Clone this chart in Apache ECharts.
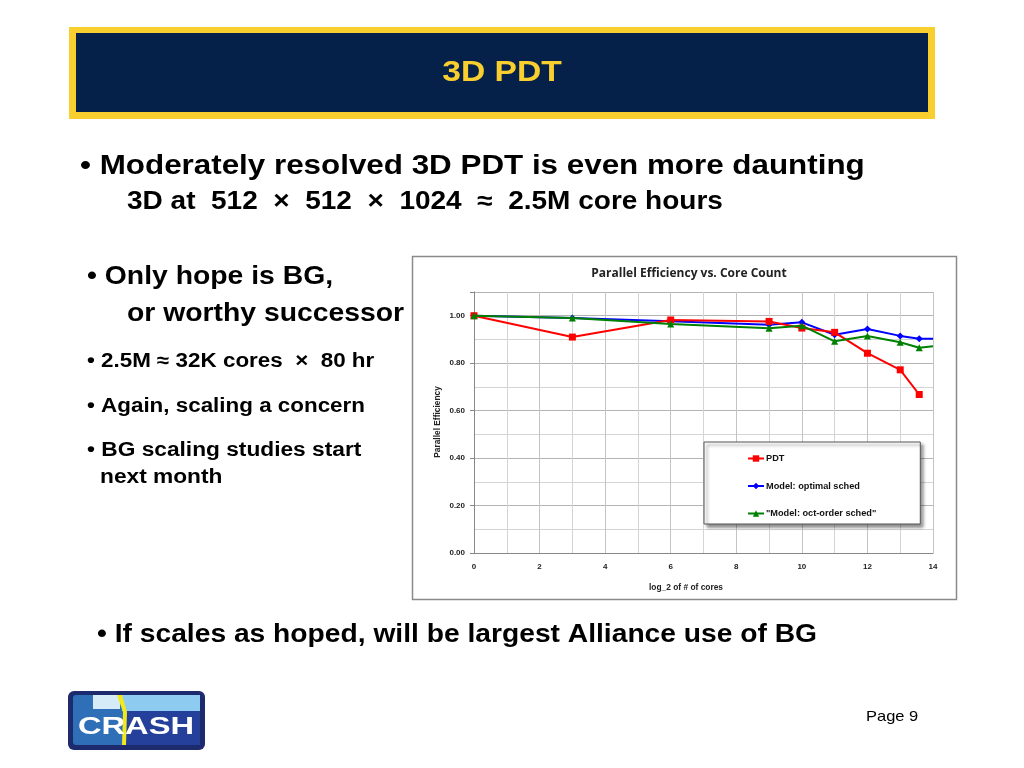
<!DOCTYPE html>
<html>
<head>
<meta charset="utf-8">
<script src="https://cdn.jsdelivr.net/npm/echarts@6/dist/echarts.min.js"></script>
<style>
html,body{margin:0;padding:0;background:#fff;}
#c{width:1024px;height:768px;}
</style>
</head>
<body>
<div id="c"></div>
<script>
var coresLog2 = [0, 3, 6, 9, 10, 11, 12, 13, 13.58];
var modelLog2 = [0, 3, 6, 9, 10, 11, 12, 13, 13.58, 14];
var pdtValues = [1.00, 0.91, 0.982, 0.976, 0.948, 0.93, 0.842, 0.772, 0.668];
var optimalValues = [1.00, 0.99, 0.977, 0.962, 0.972, 0.92, 0.944, 0.915, 0.903, 0.903];
var octOrderValues = [1.00, 0.99, 0.965, 0.947, 0.958, 0.892, 0.915, 0.888, 0.865, 0.871];
var seriesNames = ['PDT', 'Model: optimal sched', '"Model: oct-order sched"'];
var yTickLabels = ['0.00', '0.20', '0.40', '0.60', '0.80', '1.00'];

function pairs(xs, ys, lastNoSymbol) {
  return ys.map(function (v, i) {
    var item = { value: [xs[i], v] };
    if (lastNoSymbol && i === ys.length - 1) item.symbol = 'none';
    return item;
  });
}

var F = '"Liberation Sans", Arial, sans-serif';
function T(x, y, text, size, sx, extra) {
  var o = {
    type: 'text', x: x, y: y, scaleX: sx || 1.12, z: 20,
    style: { text: text, font: 'bold ' + size + 'px ' + F, fill: '#000', textVerticalAlign: 'middle' }
  };
  if (extra) { for (var k in extra) o.style[k] = extra[k]; }
  return o;
}

var chart = echarts.init(document.getElementById('c'), null, { renderer: 'canvas' });

var option = {
  backgroundColor: '#ffffff',
  animation: false,
  title: {
    text: 'Parallel Efficiency vs. Core Count',
    left: 684, top: 263, textAlign: 'center',
    textStyle: { fontFamily: '"Open Sans", sans-serif', fontWeight: 'bold', fontSize: 12, color: '#222' }
  },
  grid: { left: 474, right: 91, top: 292, bottom: 215, containLabel: false },
  xAxis: {
    type: 'value', min: 0, max: 14, interval: 2,
    axisLine: { show: true, lineStyle: { color: '#888', width: 1 } },
    axisTick: { show: false },
    axisLabel: { fontFamily: F, fontWeight: 'bold', fontSize: 8, color: '#222', margin: 10 },
    splitLine: { show: true, lineStyle: { color: '#c4c4c4', width: 1 } },
    minorTick: { show: false, splitNumber: 2 },
    minorSplitLine: { show: true, lineStyle: { color: '#d4d4d4', width: 1 } }
  },
  yAxis: {
    type: 'value', min: 0, max: 1.1, interval: 0.2,
    axisLine: { show: true, lineStyle: { color: '#888', width: 1 } },
    axisTick: { show: true, length: 4, lineStyle: { color: '#888' } },
    axisLabel: { fontFamily: F, fontWeight: 'bold', fontSize: 8, color: '#222', margin: 9,
      formatter: function (v) { var s = v.toFixed(2); return yTickLabels.indexOf(s) >= 0 ? s : ''; } },
    splitLine: { show: true, lineStyle: { color: '#b4b4b4', width: 1 } },
    minorTick: { show: false, splitNumber: 2 },
    minorSplitLine: { show: true, lineStyle: { color: '#d4d4d4', width: 1 } }
  },
  legend: {
    orient: 'vertical', left: 704, top: 442,
    data: seriesNames,
    backgroundColor: '#ffffff', borderColor: '#555', borderWidth: 1,
    padding: [12, 44, 6, 43],
    itemGap: 18.5, itemWidth: 16, itemHeight: 8,
    shadowColor: 'rgba(0,0,0,0.45)', shadowBlur: 3, shadowOffsetX: 3, shadowOffsetY: 3,
    textStyle: { fontFamily: F, fontWeight: 'bold', fontSize: 9.2, color: '#111', padding: [0, 0, 0, -3] }
  },
  series: [
    {
      name: seriesNames[0], type: 'line', data: pairs(coresLog2, pdtValues, false),
      symbol: 'rect', symbolSize: 7, color: '#ff0000',
      lineStyle: { color: '#ff0000', width: 2 }, itemStyle: { color: '#ff0000' }, z: 3
    },
    {
      name: seriesNames[1], type: 'line', data: pairs(modelLog2, optimalValues, true),
      symbol: 'diamond', symbolSize: 7, color: '#0000ff',
      lineStyle: { color: '#0000ff', width: 2 }, itemStyle: { color: '#0000ff' }, z: 2
    },
    {
      name: seriesNames[2], type: 'line', data: pairs(modelLog2, octOrderValues, true),
      symbol: 'triangle', symbolSize: 7, color: '#008000',
      lineStyle: { color: '#008000', width: 2 }, itemStyle: { color: '#008000' }, z: 4
    }
  ],
  graphic: [
    // chart frame
    { type: 'rect', z: -10, shape: { x: 412.5, y: 256.5, width: 544, height: 343 },
      style: { fill: '#fff', stroke: '#8a8a8a', lineWidth: 1.5 } },
    // axis names
    { type: 'text', x: 686, y: 588, z: 10,
      style: { text: 'log_2 of # of cores', font: 'bold 8.4px ' + F, fill: '#222', textAlign: 'center', textVerticalAlign: 'middle' } },
    { type: 'text', x: 438, y: 422, rotation: Math.PI / 2, z: 10,
      style: { text: 'Parallel Efficiency', font: 'bold 8.4px ' + F, fill: '#222', textAlign: 'center', textVerticalAlign: 'middle' } },
    // header
    { type: 'rect', shape: { x: 69, y: 27, width: 866, height: 92 }, style: { fill: '#f9cf2f' } },
    { type: 'rect', shape: { x: 76, y: 33, width: 852, height: 79 }, style: { fill: '#05214a' } },
    T(502, 73, '3D PDT', 30, 1.12, { fill: '#f9cf2f', textAlign: 'center' }),
    // main bullet
    T(80, 166, '• Moderately resolved 3D PDT is even more daunting', 28),
    T(127, 202, '3D at  512  ×  512  ×  1024  ≈  2.5M core hours', 25),
    // left bullets
    T(87, 277, '• Only hope is BG,', 25.3),
    T(127, 314, 'or worthy successor', 25.3),
    T(87, 361, '• 2.5M ≈ 32K cores  ×  80 hr', 20),
    T(87, 406, '• Again, scaling a concern', 20),
    T(87, 450, '• BG scaling studies start', 20.3),
    T(100, 477, 'next month', 20.3),
    // bottom bullet
    T(97, 635, '• If scales as hoped, will be largest Alliance use of BG', 25.2),
    // page
    { type: 'text', x: 866, y: 717, scaleX: 1.1, style: { text: 'Page 9', font: '15px ' + F, fill: '#000', textVerticalAlign: 'middle' } },
    // logo
    { type: 'rect', shape: { x: 68, y: 691, width: 137, height: 59, r: 6 }, style: { fill: '#1d2a6d' } },
    { type: 'rect', shape: { x: 73, y: 695, width: 127, height: 50, r: 3 }, style: { fill: '#2f6fb8' } },
    { type: 'rect', shape: { x: 122, y: 695, width: 78, height: 16 }, style: { fill: '#8ecbf0' } },
    { type: 'rect', shape: { x: 93, y: 695, width: 27, height: 14 }, style: { fill: '#d6ebf8' } },
    { type: 'rect', shape: { x: 124, y: 711, width: 76, height: 34 }, style: { fill: '#24409a' } },
    { type: 'polygon', shape: { points: [[117, 695], [122, 695], [127, 712], [126, 745], [122, 745], [123, 712]] }, style: { fill: '#f3e81a' } },
    { type: 'text', x: 136, y: 727, scaleX: 1.36, style: { text: 'CRASH', font: 'bold 24px ' + F, fill: '#ffffff', textAlign: 'center', textVerticalAlign: 'middle' } }
  ]
};
chart.setOption(option);
</script>
</body>
</html>
